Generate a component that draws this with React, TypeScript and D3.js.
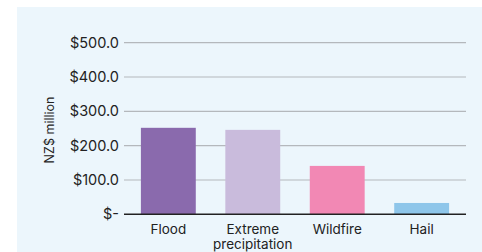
import * as d3 from "d3";
import { useMemo } from "react";

const categories = ["Flood", "Extreme precipitation", "Wildfire", "Hail"];
const values = [252, 246, 141, 33];
const colors = ["#8a6aad", "#c9bbdc", "#f288b4", "#8ec6ea"];
const yTicks = [0, 100, 200, 300, 400, 500];

const W = 482;
const H = 252;
const margin = { top: 42.7, right: 16, bottom: 37.7, left: 124 };

function tickLabel(v: number) {
  return v === 0 ? "$-" : `$${v.toFixed(1)}`;
}

export default function App() {
  const innerW = W - margin.left - margin.right;
  const innerH = H - margin.top - margin.bottom;

  // bands for the categories
  const xScale = useMemo(
    () =>
      d3
        .scaleBand()
        .domain(categories)
        .range([0, innerW])
        .paddingInner(0.35)
        .paddingOuter(0.2),
    [innerW]
  );

  const yScale = useMemo(
    () => d3.scaleLinear().domain([0, 500]).range([innerH, 0]),
    [innerH]
  );

  const font = "Inter, 'Noto Sans', sans-serif";

  return (
    <svg
      width={W}
      height={H}
      style={{ position: "fixed", top: 0, left: 0 }}
      fontFamily={font}
    >
      <rect x={17} y={7} width={W - 17} height={H - 7} fill="#ecf6fc" />
      <g transform={`translate(${margin.left},${margin.top})`}>
        {yTicks.map((t) => (
          <g key={t} transform={`translate(0,${yScale(t)})`}>
            {t > 0 && (
              <line x1={0} x2={innerW} stroke="#b4b8bc" strokeWidth={1.2} />
            )}
            <text
              x={-5}
              dy="0.35em"
              textAnchor="end"
              fontSize={14.5}
              fill="#222"
            >
              {tickLabel(t)}
            </text>
          </g>
        ))}
        {categories.map((c, i) => (
          <rect
            key={c}
            x={xScale(c)}
            y={yScale(values[i])}
            width={xScale.bandwidth()}
            height={innerH - yScale(values[i])}
            fill={colors[i]}
          />
        ))}
        <line
          x1={0}
          x2={innerW}
          y1={innerH}
          y2={innerH}
          stroke="#222"
          strokeWidth={1.6}
        />
        {categories.map((c) => {
          const words = c === "Extreme precipitation" ? ["Extreme", "precipitation"] : [c];
          const cx = (xScale(c) ?? 0) + xScale.bandwidth() / 2;
          return (
            <text
              key={c}
              x={cx}
              y={innerH + 20}
              textAnchor="middle"
              fontSize={13.5}
              fill="#222"
            >
              {words.map((w, j) => (
                <tspan key={w} x={cx} dy={j === 0 ? 0 : 15}>
                  {w}
                </tspan>
              ))}
            </text>
          );
        })}
        <text
          transform={`translate(${50 - margin.left},${130 - margin.top}) rotate(-90)`}
          textAnchor="middle"
          dy="0.35em"
          fontSize={12.5}
          fill="#222"
        >
          NZ$ million
        </text>
      </g>
    </svg>
  );
}
